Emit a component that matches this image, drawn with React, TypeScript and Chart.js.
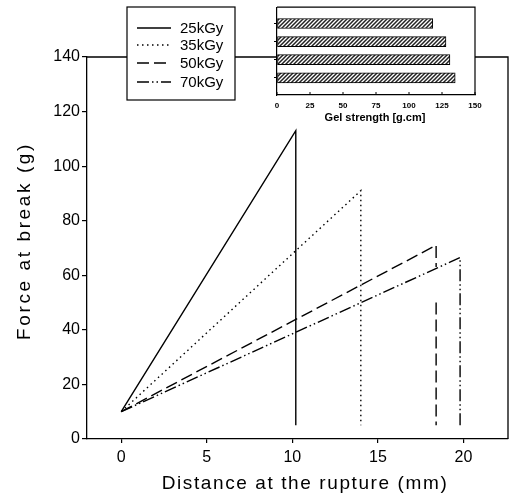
import React, { useEffect, useRef } from 'react';
import { Chart, registerables } from 'chart.js';

Chart.register(...registerables);

// ---- data ----
const seriesNames = ['25kGy', '35kGy', '50kGy', '70kGy'];
const dose25X = [0, 10.2, 10.2];
const dose25Y = [10, 113, 5];
const dose35X = [0, 14.0, 14.0];
const dose35Y = [10, 91, 5];
const dose50X = [0, 18.4, 18.4, 18.4, 18.4, 18.4];
const dose50Y: (number | null)[] = [10, 71, 63, null, 50, 5];
const dose70X = [0, 19.8, 19.8];
const dose70Y = [10, 66.5, 5];
const xTicks = [0, 5, 10, 15, 20];
const yTicks = [0, 20, 40, 60, 80, 100, 120, 140];
const gelValues = [118, 128, 131, 135];
const gelPositions = [1, 2, 3, 4];
const gelTicks = [0, 25, 50, 75, 100, 125, 150];

const xTitle = 'Distance at the rupture (mm)';
const yTitle = 'Force at break (g)';
const gelTitle = 'Gel strength [g.cm]';

const FONT = '"Liberation Sans", Arial, Helvetica, sans-serif';
const dashes: number[][] = [[], [1.5, 3.5], [12, 5], [12, 3, 1.5, 3, 1.5, 3]];

function pts(xs: number[], ys: (number | null)[]) {
  return xs.map((x, i) => ({ x, y: ys[i] }));
}

const mainPlugin = {
  id: 'mainDecor',
  afterDraw(chart: any) {
    const ctx = chart.ctx as CanvasRenderingContext2D;
    const a = chart.chartArea;
    ctx.save();
    // top and right frame
    ctx.strokeStyle = '#000';
    ctx.lineWidth = 1.3;
    ctx.beginPath();
    ctx.moveTo(a.left, a.top);
    ctx.lineTo(a.right, a.top);
    ctx.lineTo(a.right, a.bottom);
    ctx.stroke();

    // legend box
    const L = 127, T = 7, R = 235, B = 100;
    ctx.fillStyle = '#fff';
    ctx.fillRect(L, T, R - L, B - T);
    ctx.lineWidth = 1.2;
    ctx.strokeRect(L, T, R - L, B - T);
    const rows = [28, 45, 63, 82];
    ctx.font = `15px ${FONT}`;
    ctx.textBaseline = 'middle';
    ctx.textAlign = 'left';
    seriesNames.forEach((name, i) => {
      ctx.setLineDash(dashes[i]);
      ctx.lineWidth = 1.4;
      ctx.beginPath();
      ctx.moveTo(137, rows[i]);
      ctx.lineTo(171, rows[i]);
      ctx.stroke();
      ctx.setLineDash([]);
      ctx.fillStyle = '#000';
      ctx.fillText(name, 180, rows[i] + 1);
    });

    // axis titles
    ctx.fillStyle = '#000';
    ctx.font = `19px ${FONT}`;
    ctx.textAlign = 'center';
    (ctx as any).letterSpacing = '1.6px';
    ctx.fillText(xTitle, 305, 484);
    ctx.translate(25, 241);
    ctx.rotate(-Math.PI / 2);
    (ctx as any).letterSpacing = '2.6px';
    ctx.fillText(yTitle, 0, 0);
    ctx.restore();
  },
};

const insetPlugin = {
  id: 'insetDecor',
  beforeDraw(chart: any) {
    const ctx = chart.ctx as CanvasRenderingContext2D;
    const a = chart.chartArea;
    ctx.save();
    ctx.fillStyle = '#fff';
    ctx.fillRect(a.left, a.top, a.right - a.left, a.bottom - a.top);
    ctx.restore();
  },
  afterDraw(chart: any) {
    const ctx = chart.ctx as CanvasRenderingContext2D;
    const a = chart.chartArea;
    const xs = chart.scales.x;
    ctx.save();
    ctx.strokeStyle = '#000';
    ctx.lineWidth = 1.2;
    ctx.beginPath();
    ctx.moveTo(a.left, a.top);
    ctx.lineTo(a.right, a.top);
    ctx.lineTo(a.right, a.bottom);
    ctx.stroke();
    ctx.lineWidth = 1;
    ctx.beginPath();
    gelTicks.forEach((v) => {
      const px = xs.getPixelForValue(v);
      ctx.moveTo(px, a.bottom);
      ctx.lineTo(px, a.bottom - 3);
    });
    ctx.stroke();
    ctx.fillStyle = '#000';
    ctx.font = `bold 11px ${FONT}`;
    ctx.textAlign = 'center';
    ctx.textBaseline = 'middle';
    ctx.fillText(gelTitle, 125, 118);
    ctx.restore();
  },
};

function makeHatch(ctx: CanvasRenderingContext2D) {
  const c = document.createElement('canvas');
  c.width = 4;
  c.height = 4;
  const p = c.getContext('2d') as CanvasRenderingContext2D;
  p.fillStyle = '#fff';
  p.fillRect(0, 0, 4, 4);
  p.strokeStyle = '#222';
  p.lineWidth = 1.5;
  p.beginPath();
  p.moveTo(0, 4);
  p.lineTo(4, 0);
  p.moveTo(-1, 1);
  p.lineTo(1, -1);
  p.moveTo(3, 5);
  p.lineTo(5, 3);
  p.stroke();
  return ctx.createPattern(c, 'repeat');
}

export default function App() {
  const mainRef = useRef<HTMLCanvasElement>(null);
  const insetRef = useRef<HTMLCanvasElement>(null);

  useEffect(() => {
    document.body.style.margin = '0';
    const tickFont = { family: FONT, size: 16 };
    const series = [pts(dose25X, dose25Y), pts(dose35X, dose35Y), pts(dose50X, dose50Y), pts(dose70X, dose70Y)];
    const main = new Chart(mainRef.current as HTMLCanvasElement, {
      type: 'line',
      data: {
        datasets: series.map((d, i) => ({
          label: seriesNames[i],
          data: d as any,
          borderColor: '#000',
          borderWidth: 1.4,
          borderDash: dashes[i],
          pointRadius: 0,
          fill: false,
          tension: 0,
          spanGaps: false,
        })),
      },
      options: {
        animation: false,
        responsive: false,
        layout: { padding: { top: 57, right: 2, left: 0, bottom: 0 } },
        plugins: { legend: { display: false }, tooltip: { enabled: false } },
        scales: {
          x: {
            type: 'linear',
            min: -2,
            max: 22.6,
            afterBuildTicks: (s: any) => { s.ticks = xTicks.map((v) => ({ value: v })); },
            afterFit: (s: any) => { s.height = 58; },
            grid: { drawOnChartArea: false, tickLength: 4, color: '#000', lineWidth: 1.2 },
            border: { color: '#000', width: 1.3 },
            ticks: { font: tickFont, color: '#000', padding: 5, maxRotation: 0 },
          },
          y: {
            type: 'linear',
            min: 0,
            max: 140,
            afterBuildTicks: (s: any) => { s.ticks = yTicks.map((v) => ({ value: v })); },
            afterFit: (s: any) => { s.width = 87; },
            grid: { drawOnChartArea: false, tickLength: 5, color: '#000', lineWidth: 1.2 },
            border: { color: '#000', width: 1.3 },
            ticks: { font: tickFont, color: '#000', padding: 2 },
          },
        },
      } as any,
      plugins: [mainPlugin],
    });

    const ictx = (insetRef.current as HTMLCanvasElement).getContext('2d') as CanvasRenderingContext2D;
    const hatch = makeHatch(ictx);
    const inset = new Chart(insetRef.current as HTMLCanvasElement, {
      type: 'bar',
      data: {
        datasets: [
          {
            label: gelTitle,
            data: gelValues.map((v, i) => ({ x: v, y: gelPositions[i] })) as any,
            backgroundColor: hatch as any,
            borderColor: '#000',
            borderWidth: 1,
            borderSkipped: false,
            barThickness: 10,
          },
        ],
      },
      options: {
        indexAxis: 'y',
        animation: false,
        responsive: false,
        layout: { padding: { top: 6, right: 25, left: 0, bottom: 0 } },
        plugins: { legend: { display: false }, tooltip: { enabled: false } },
        scales: {
          x: {
            type: 'linear',
            min: 0,
            max: 150,
            afterBuildTicks: (s: any) => { s.ticks = gelTicks.map((v) => ({ value: v })); },
            afterFit: (s: any) => { s.height = 31; },
            grid: { drawOnChartArea: false, drawTicks: false },
            border: { color: '#000', width: 1.2 },
            ticks: { font: { family: FONT, size: 8, weight: 'bold' }, color: '#000', padding: 6, maxRotation: 0 },
          },
          y: {
            type: 'linear',
            min: 0.1,
            max: 4.95,
            reverse: true,
            offset: false,
            afterBuildTicks: (s: any) => { s.ticks = gelPositions.map((v) => ({ value: v })); },
            afterFit: (s: any) => { s.width = 27; },
            grid: { drawOnChartArea: false, offset: false, tickLength: 3, color: '#000' },
            border: { color: '#000', width: 1.2 },
            ticks: { callback: () => '', padding: 0 },
          },
        },
      } as any,
      plugins: [insetPlugin],
    });

    return () => {
      main.destroy();
      inset.destroy();
    };
  }, []);

  return (
    <div style={{ position: 'relative', width: 510, height: 497, background: '#fff' }}>
      <canvas ref={mainRef} width={510} height={497} style={{ position: 'absolute', left: 0, top: 0, width: 510, height: 497 }} />
      <canvas ref={insetRef} width={250} height={126} style={{ position: 'absolute', left: 250, top: 0, width: 250, height: 126 }} />
    </div>
  );
}
